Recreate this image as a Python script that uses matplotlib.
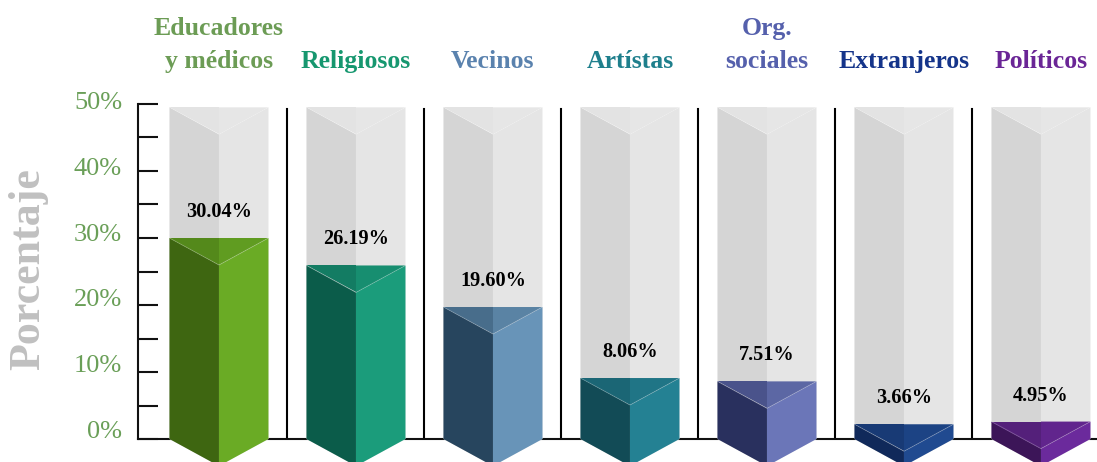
import matplotlib
matplotlib.use('agg')
import matplotlib.pyplot as plt
from matplotlib.patches import Polygon
from matplotlib.colors import to_rgb
from matplotlib.transforms import ScaledTranslation

# data
categories = ["Educadores\ny médicos", "Religiosos", "Vecinos", "Artístas",
              "Org.\nsociales", "Extranjeros", "Políticos"]
shown_pct = [30.04, 26.19, 19.60, 8.06, 7.51, 3.66, 4.95]
# heights as the bars are actually drawn in the picture
drawn_height = [30.0, 25.9, 19.7, 9.1, 8.6, 2.2, 2.6]
y_ticks = [0, 10, 20, 30, 40, 50]
y_minor = [5, 15, 25, 35, 45]

label_colors = ['#6c9c55', '#16976f', '#5a82ae', '#1e7f8c', '#5560ac', '#14348a', '#6a2596']
left_faces = ['#3e6611', '#0b5c4a', '#27455e', '#124b56', '#29305e', '#10295a', '#3c1558']
right_faces = ['#6aab25', '#1b9c7b', '#6894b8', '#248193', '#6b76b8', '#204a90', '#6b2a9c']

SERIF = 'Liberation Serif'
PX = 335 / 50  # pixels per percent
depth = 27 / PX  # depth of the V faces
half_w = 49.5 / 137
bg_top = 49.5


def mix(c1, c2, t):
    a, b = to_rgb(c1), to_rgb(c2)
    return tuple(a[k] + (b[k] - a[k]) * t for k in range(3))


def prism(ax, xc, h, cl, cr, ctl, ctr, z, edge_alpha=0.25):
    x0, x1 = xc - half_w, xc + half_w
    ax.add_patch(Polygon([(x0, h), (xc, h - depth), (xc, -depth), (x0, 0)],
                         closed=True, fc=cl, ec='none', zorder=z, clip_on=False))
    ax.add_patch(Polygon([(xc, h - depth), (x1, h), (x1, 0), (xc, -depth)],
                         closed=True, fc=cr, ec='none', zorder=z, clip_on=False))
    ax.add_patch(Polygon([(x0, h), (xc, h), (xc, h - depth)],
                         closed=True, fc=ctl, ec='none', zorder=z + 0.1, clip_on=False))
    ax.add_patch(Polygon([(xc, h), (x1, h), (xc, h - depth)],
                         closed=True, fc=ctr, ec='none', zorder=z + 0.1, clip_on=False))
    ax.plot([x0, xc, x1], [h, h - depth, h], color='white', alpha=edge_alpha, lw=0.6,
            zorder=z + 0.2, clip_on=False)


fig = plt.figure(figsize=(10.97, 4.62), dpi=100)
ax = fig.add_axes([138 / 1097, 23 / 462, 959 / 1097, 335 / 462])
ax.set_xlim(-0.591, 6.409)
ax.set_ylim(0, 50)

for s in ['top', 'right']:
    ax.spines[s].set_visible(False)
ax.spines['left'].set_linewidth(1.5)
ax.spines['bottom'].set_linewidth(1.5)
ax.spines['left'].set_color('#111111')
ax.spines['bottom'].set_color('#111111')

ax.set_xticks([])
ax.set_yticks(y_ticks)
ax.set_yticks(y_minor, minor=True)
ax.set_yticklabels([f"{t}%" for t in y_ticks], fontfamily=SERIF, fontsize=19)
ax.tick_params(axis='y', which='both', direction='in', length=14.4, width=1.5,
               color='#111111', labelcolor='#6a9f58', pad=11.5)
# labels sit a little above their ticks, more so near the bottom
for k, lab in enumerate(ax.get_yticklabels()):
    up = 10 - 1.4 * k
    lab.set_transform(lab.get_transform() + ScaledTranslation(0, up / 100, fig.dpi_scale_trans))

# separators between columns
for i in range(len(categories) - 1):
    ax.plot([i + 0.5, i + 0.5], [0, 49.2], color='black', lw=1.5, zorder=2)

for i, cat in enumerate(categories):
    # grey background prism
    prism(ax, i, bg_top, '#d5d5d5', '#e5e5e5', '#e3e3e3', '#e6e6e6', 3, edge_alpha=0.12)
    cl, cr = left_faces[i], right_faces[i]
    prism(ax, i, drawn_height[i], cl, cr, mix(cl, cr, 0.5), mix(cl, cr, 0.78), 4)
    ax.text(i, drawn_height[i] + 26 / PX, f"{shown_pct[i]:.2f}%", ha='center', va='center',
            fontfamily=SERIF, fontsize=14.6, fontweight='bold', color='black', zorder=6)
    lines = cat.split('\n')
    for k, line in enumerate(reversed(lines)):
        ax.text(i, (439 - 68) / PX + k * 33 / PX, line, ha='center', va='baseline',
                fontfamily=SERIF, fontsize=18.5, fontweight='bold',
                color=label_colors[i], clip_on=False)

fig.text(28 / 1097, 1 - 269 / 462, "Porcentaje", rotation=90, ha='center', va='center',
         fontfamily=SERIF, fontsize=31.7, fontweight='bold', color='#c0c0c0')

fig.savefig("out.png", dpi=100)
